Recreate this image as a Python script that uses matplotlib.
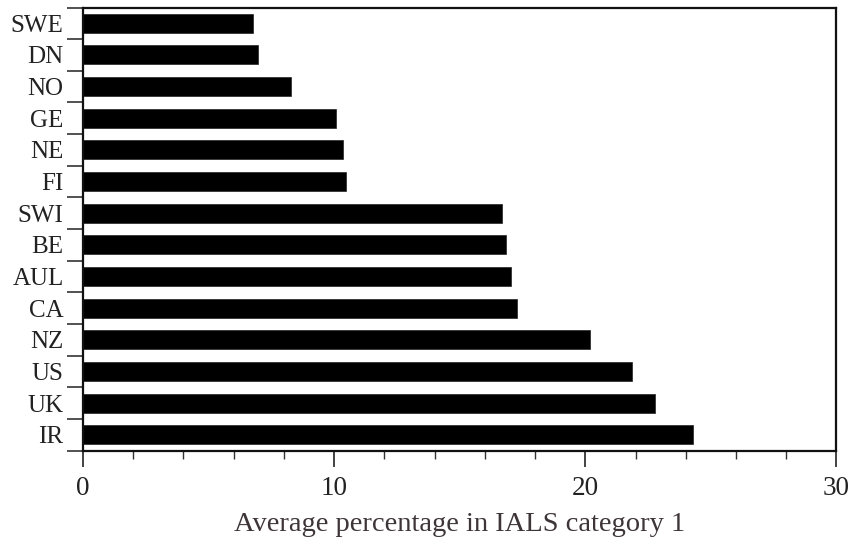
import matplotlib
matplotlib.use("Agg")
import matplotlib.pyplot as plt
import numpy as np
from matplotlib.ticker import MultipleLocator, FixedLocator

countries = ["IR", "UK", "US", "NZ", "CA", "AUL", "BE", "SWI", "FI", "NE", "GE", "NO", "DN", "SWE"]
values = [24.27, 22.78, 21.87, 20.17, 17.26, 17.06, 16.86, 16.67, 10.46, 10.37, 10.06, 8.27, 6.97, 6.76]
xticks = [0, 10, 20, 30]
xlabel = "Average percentage in IALS category 1"

plt.rcParams['font.family'] = ['Liberation Serif', 'DejaVu Serif']
fig = plt.figure(figsize=(8.54, 5.4), dpi=100)
ax = fig.add_axes([83/854, 1-450.5/540, (836.5-83)/854, (450.5-7.5)/540])

y = np.arange(len(countries))
ax.barh(y, values, height=0.6, color="black", edgecolor="#222", linewidth=0.5)

ax.set_xlim(0, 30)
ax.set_ylim(-0.5, len(countries) - 0.5)

ax.set_xticks(xticks)
ax.set_xticklabels([str(t) for t in xticks])
ax.xaxis.set_minor_locator(MultipleLocator(2))
ax.set_yticks(y)
ax.set_yticklabels(countries)
ax.yaxis.set_minor_locator(FixedLocator(np.arange(-0.5, len(countries), 1.0)))

ax.tick_params(axis='x', which='major', direction='out', length=11.5, width=1.2,
               pad=7, labelsize=19.5, colors='#222')
ax.tick_params(axis='x', which='minor', direction='out', length=5.5, width=1.0, color='#333')
ax.tick_params(axis='y', which='major', length=0, pad=14, labelsize=18, labelcolor='#222')
ax.tick_params(axis='y', which='minor', direction='out', length=11.5, width=1.2, color='#333')

for s in ax.spines.values():
    s.set_linewidth(1.6)
    s.set_color('#111')

ax.set_xlabel(xlabel, fontsize=20.5, color='#3d3538', labelpad=8)

fig.savefig("out.png", dpi=100)
